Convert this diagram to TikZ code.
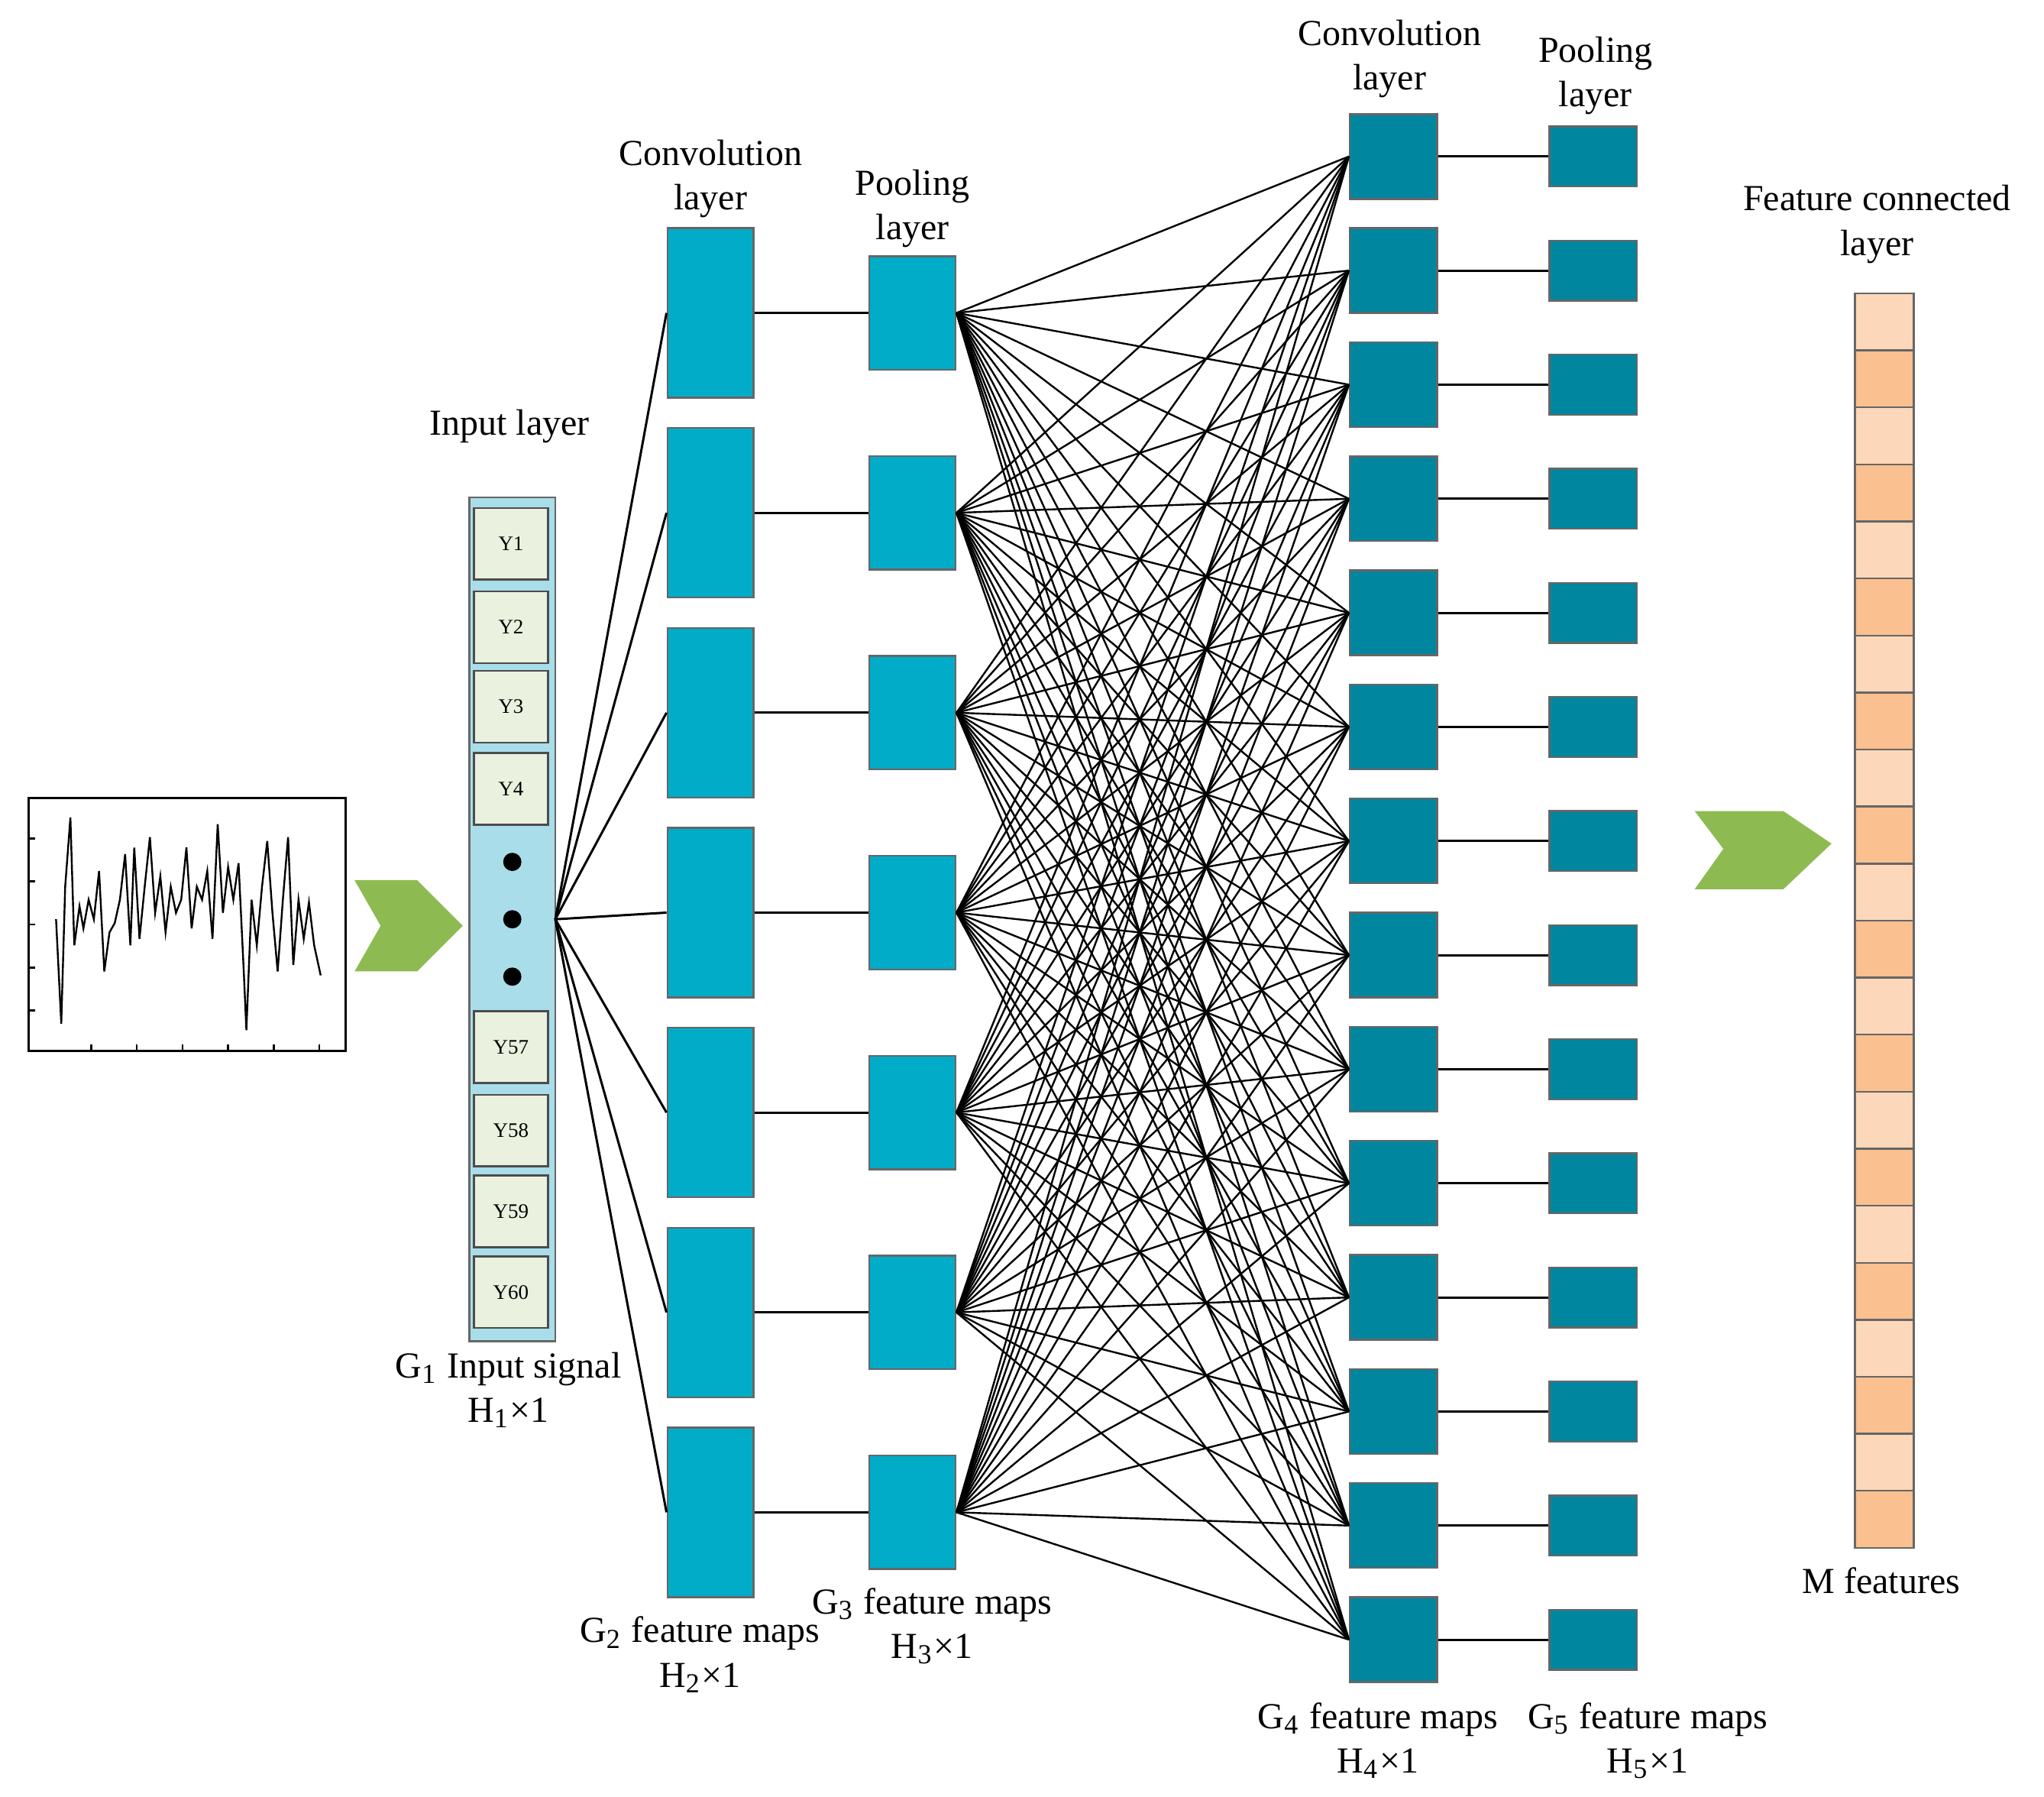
\documentclass[tikz,border=0pt]{standalone}
\usepackage{fontspec}
\setmainfont{Liberation Serif}
\usetikzlibrary{positioning}
\definecolor{inbg}{HTML}{A9DDEA}
\definecolor{cellg}{HTML}{EAF1DE}
\definecolor{convA}{HTML}{00ACC8}
\definecolor{convB}{HTML}{00869E}
\definecolor{featL}{HTML}{FCD7BA}
\definecolor{featD}{HTML}{FBC08F}
\definecolor{arrg}{HTML}{8DBB52}
\begin{document}
\begin{tikzpicture}[x=0.01cm,y=-0.01cm,
    lbl/.style={font=\fontsize{8}{9.7}\selectfont,align=center,inner sep=0pt},
    cell/.style={draw=black!70,fill=cellg,minimum width=0.57cm,minimum height=0.55cm,inner sep=0pt,font=\fontsize{4.5}{5}\selectfont},
    convone/.style={draw=black!60,fill=convA,minimum width=0.66cm,minimum height=1.30cm,inner sep=0pt},
    poolone/.style={draw=black!60,fill=convA,minimum width=0.66cm,minimum height=0.87cm,inner sep=0pt},
    convtwo/.style={draw=black!60,fill=convB,minimum width=0.67cm,minimum height=0.65cm,inner sep=0pt},
    pooltwo/.style={draw=black!60,fill=convB,minimum width=0.67cm,minimum height=0.46cm,inner sep=0pt},
    link/.style={line width=0.5pt}]
\useasboundingbox (0,0) rectangle (1568,1378);

% signal plot
\draw[line width=0.5pt] (22,612) rectangle (265,806);
\foreach \t in {643,676,709,742,775} \draw (22,\t) -- (27,\t);
\foreach \t in {70,105,140,175,210,245} \draw (\t,806) -- (\t,801);
\draw[line width=0.4pt] (43,705) -- (47,785) -- (50,680) -- (54,627) -- (57,725) -- (61,695) -- (64,712)
  -- (68,690) -- (72,705) -- (76,668) -- (80,745) -- (84,715) -- (88,708) -- (92,690) -- (96,655)
  -- (100,725) -- (103,650) -- (107,720) -- (111,680) -- (115,642) -- (119,700) -- (123,672)
  -- (127,715) -- (131,680) -- (135,700) -- (139,690) -- (143,650) -- (147,712) -- (151,680)
  -- (155,690) -- (159,668) -- (163,720) -- (167,632) -- (171,700) -- (175,665) -- (179,690)
  -- (183,662) -- (187,745) -- (189,790) -- (193,690) -- (197,725) -- (201,680) -- (205,645)
  -- (209,700) -- (213,745) -- (217,690) -- (221,642) -- (225,740) -- (229,690) -- (233,720)
  -- (237,692) -- (241,725) -- (246,748);

% arrows
\fill[arrg] (272,675) -- (320,675) -- (355,710) -- (320,745) -- (272,745) -- (292,710) -- cycle;
\fill[arrg] (1300,622) -- (1368,622) -- (1405,647) -- (1368,682) -- (1300,682) -- (1322,651) -- cycle;

% input layer
\node[draw=black!60,fill=inbg,minimum width=0.66cm,minimum height=6.47cm,inner sep=0pt] (inp) at (393,705) {};
\foreach \n/\y in {Y1/417,Y2/481,Y3/542,Y4/605,Y57/803,Y58/867,Y59/929,Y60/991}
  \node[cell] (\n) at (392,\y) {\n};
\foreach \y in {661,705,749} \fill (393,\y) circle (7);
\coordinate (inp-out) at (426,705);
\node[lbl] at (391,327) {Input layer};
\node[lbl] at (390,1066) {G\textsubscript{1} Input signal\\H\textsubscript{1}×1};

% first convolution and pooling
\foreach \i in {1,...,7}{
  \node[convone] (c\i) at (545,{240+(\i-1)*153.3}) {};
  \node[poolone] (p\i) at (700,{240+(\i-1)*153.3}) {};
  \draw[link] (inp-out) -- (c\i.west);
  \draw[link] (c\i.east) -- (p\i.west);
}
\node[lbl] at (545,137) {Convolution\\layer};
\node[lbl] at (700,160) {Pooling\\layer};
\node[lbl] at (537,1269) {G\textsubscript{2} feature maps\\H\textsubscript{2}×1};
\node[lbl] at (715,1247) {G\textsubscript{3} feature maps\\H\textsubscript{3}×1};

% second convolution and pooling
\foreach \j in {1,...,14}{
  \node[convtwo] (d\j) at (1069,{120+(\j-1)*87.5}) {};
  \node[pooltwo] (q\j) at (1222,{120+(\j-1)*87.5}) {};
  \draw[link] (d\j.east) -- (q\j.west);
}
\foreach \i in {1,...,7}
  \foreach \j in {1,...,14}
    \draw[line width=0.4pt] (p\i.east) -- (d\j.west);
\node[lbl] at (1066,45) {Convolution\\layer};
\node[lbl] at (1224,58) {Pooling\\layer};
\node[lbl] at (1057,1335) {G\textsubscript{4} feature maps\\H\textsubscript{4}×1};
\node[lbl] at (1264,1335) {G\textsubscript{5} feature maps\\H\textsubscript{5}×1};

% feature connected layer
\foreach \k in {1,...,22}{
  \pgfmathsetmacro\top{225+(\k-1)*43.73}
  \ifodd\k \def\fc{featL}\else\def\fc{featD}\fi
  \draw[draw=black!60,fill=\fc] (1423,\top) rectangle (1468,\top+43.73);
}
\node[lbl] at (1440,172) {Feature connected\\layer};
\node[lbl] at (1443,1212) {M features};
\end{tikzpicture}
\end{document}
